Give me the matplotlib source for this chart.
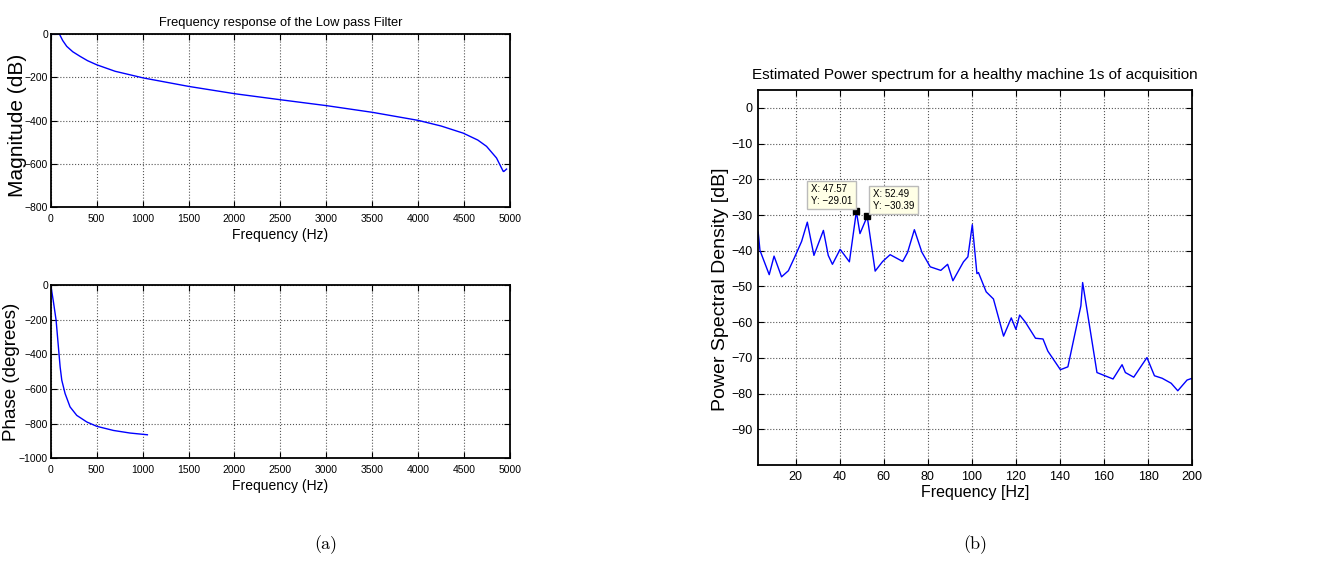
import matplotlib.pyplot as plt

plt.rcParams['font.family'] = ['Liberation Sans', 'DejaVu Sans']

# (a) magnitude response of the low pass filter
mag_f = [0, 94, 130, 174, 240, 319, 400, 500, 700, 1009, 1502, 2006, 2507,
         3004, 3505, 4001, 4250, 4491, 4650, 4745, 4854, 4927, 4934, 4963]
mag_db = [0, 0, -30, -57, -82, -103, -123, -142, -172, -203, -242, -276, -304,
          -331, -362, -399, -425, -458, -490, -519, -573, -635, -635, -624]

# (a) phase response
ph_f = [0, 29, 58, 83, 102, 120, 156, 210, 283, 392, 500, 682, 863, 1052]
ph_deg = [0, -97, -203, -357, -473, -550, -627, -704, -753, -791, -816, -840, -855, -865]

# (b) power spectrum
psd_f = [3.0, 3.8, 8.0, 10.2, 13.6, 16.7, 19.4, 22.7, 25.3, 28.3, 32.6, 34.8,
         36.7, 40.2, 44.4, 47.57, 49.2, 52.49, 56.1, 59.5, 62.9, 68.6, 70.8,
         73.9, 77.3, 81.1, 85.9, 89.0, 91.4, 96.2, 98.2, 100.2, 102.3, 103.0,
         106.5, 109.8, 114.4, 117.9, 120.0, 121.7, 124.2, 128.9, 132.3, 134.5,
         140.2, 143.6, 149.5, 150.3, 156.8, 164.1, 168.2, 169.7, 173.5, 179.5,
         182.9, 186.4, 190.5, 193.5, 197.7, 200.0]
psd_db = [-34.8, -39.9, -46.7, -41.5, -47.3, -45.6, -42.0, -37.4, -32.0, -41.3,
          -34.3, -41.3, -43.8, -39.6, -43.1, -29.01, -35.2, -30.39, -45.7, -43.0,
          -41.1, -43.0, -40.5, -34.1, -40.4, -44.5, -45.5, -43.8, -48.4, -43.1,
          -41.7, -32.7, -46.4, -46.1, -51.5, -53.5, -63.9, -58.8, -62.0, -58.0,
          -59.9, -64.5, -64.7, -68.1, -73.3, -72.5, -55.4, -48.9, -74.1, -75.9,
          -71.9, -74.1, -75.4, -69.9, -75.0, -75.7, -77.1, -79.2, -76.2, -75.7]
tips = [(47.57, -29.01), (52.49, -30.39)]


def matlab_style(ax, size, pad):
    ax.grid(True, linestyle=':', color='#555555', linewidth=0.8)
    ax.tick_params(direction='in', top=True, right=True, labelsize=size,
                   length=4, width=0.8, pad=pad)
    for s in ax.spines.values():
        s.set_linewidth(1.3)


def tip_text(x, y):
    return ('X: %.2f\nY: %.2f' % (x, y)).replace('-', '\u2212')


fig = plt.figure(figsize=(13.36, 5.77), dpi=100)

ax1 = fig.add_axes([0.038, 0.641, 0.3437, 0.300])
ax1.plot(mag_f, mag_db, color='#0000ff', linewidth=1)
ax1.set_xlim(0, 5000)
ax1.set_ylim(-800, 0)
ax1.set_xticks(range(0, 5001, 500))
ax1.set_yticks([-800, -600, -400, -200, 0])
ax1.set_xlabel('Frequency (Hz)', fontsize=10, labelpad=3)
ax1.set_ylabel('Magnitude (dB)', fontsize=15)
ax1.yaxis.set_label_coords(-0.052, 0.47)
ax1.set_title('Frequency response of the Low pass Filter', fontsize=9.3, pad=6)
matlab_style(ax1, 7.5, 5)
ax1.tick_params(axis='y', pad=2)

ax2 = fig.add_axes([0.038, 0.206, 0.3437, 0.300])
ax2.plot(ph_f, ph_deg, color='#0000ff', linewidth=1)
ax2.set_xlim(0, 5000)
ax2.set_ylim(-1000, 0)
ax2.set_xticks(range(0, 5001, 500))
ax2.set_yticks(range(-1000, 1, 200))
ax2.set_xlabel('Frequency (Hz)', fontsize=10, labelpad=3)
ax2.set_ylabel('Phase (degrees)', fontsize=13.5)
ax2.yaxis.set_label_coords(-0.066, 0.5)
matlab_style(ax2, 7.5, 5)
ax2.tick_params(axis='y', pad=2)

ax3 = fig.add_axes([0.5674, 0.194, 0.3249, 0.650])
ax3.plot(psd_f, psd_db, color='#0000ff', linewidth=1)
for tx, ty in tips:
    ax3.plot(tx, ty, 's', color='black', markersize=5)
ax3.annotate(tip_text(*tips[0]), xy=tips[0], xytext=(-3, 4),
             textcoords='offset points', ha='right', va='bottom', fontsize=7,
             multialignment='left',
             bbox=dict(boxstyle='square,pad=0.35', fc='#ffffe6', ec='#bbbbbb'))
ax3.annotate(tip_text(*tips[1]), xy=tips[1], xytext=(4, 4),
             textcoords='offset points', ha='left', va='bottom', fontsize=7,
             multialignment='left',
             bbox=dict(boxstyle='square,pad=0.35', fc='#ffffe6', ec='#bbbbbb'))
ax3.set_xlim(2.93, 200)
ax3.set_ylim(-100, 5)
ax3.set_xticks(range(20, 201, 20))
ax3.set_yticks(range(-90, 1, 10))
ax3.set_xlabel('Frequency [Hz]', fontsize=11.5, labelpad=2)
ax3.set_ylabel('Power Spectral Density [dB]', fontsize=14)
ax3.yaxis.set_label_coords(-0.066, 0.47)
ax3.set_title('Estimated Power spectrum for a healthy machine 1s of acquisition',
              fontsize=11, pad=8)
matlab_style(ax3, 9, 4)

fig.text(0.2435, 0.048, '(a)', fontsize=13, family=['cmr10', 'DejaVu Serif'], ha='center')
fig.text(0.73, 0.048, '(b)', fontsize=13, family=['cmr10', 'DejaVu Serif'], ha='center')

fig.savefig('out.png', dpi=100)
